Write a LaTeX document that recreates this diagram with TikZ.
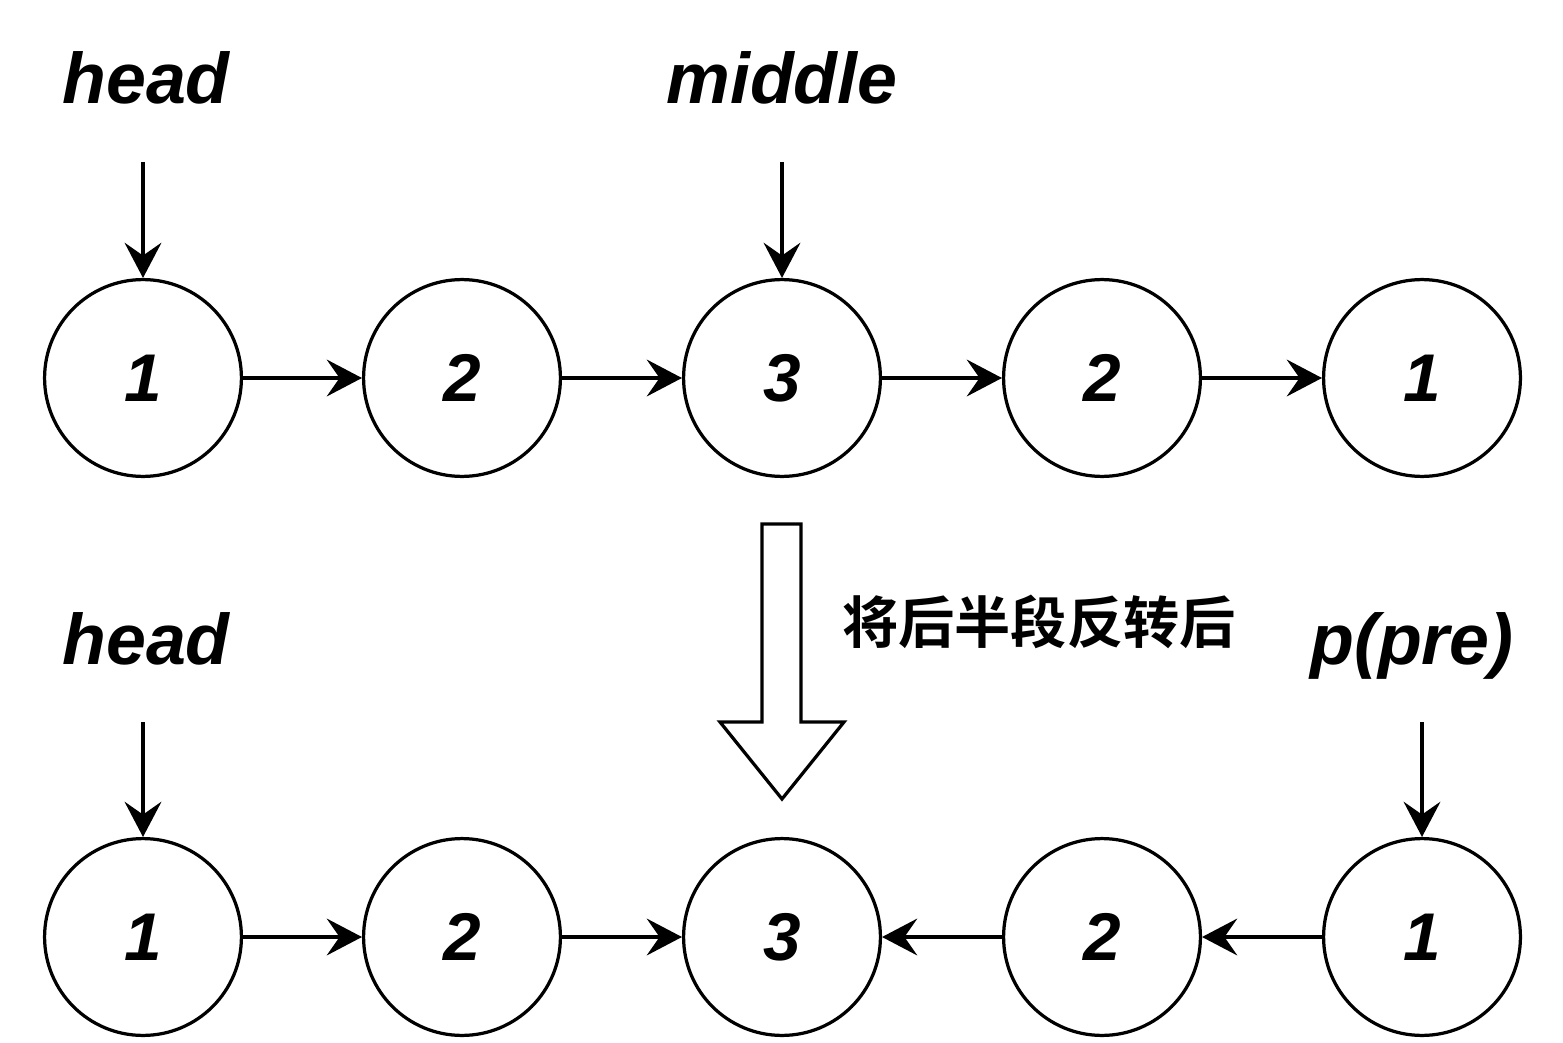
\documentclass[tikz,border=0pt]{standalone}
\usepackage{fontspec}
\setmainfont{Liberation Sans}
\newfontfamily\cjk{Noto Sans CJK SC}[BoldFont={Noto Sans CJK SC Bold}]
\usetikzlibrary{arrows.meta}

\tikzset{
  lnode/.style={circle,draw,line width=2.3pt,minimum size=4.92cm,inner sep=0pt,
    font=\fontsize{48}{48}\selectfont\bfseries\itshape},
  ptr/.style={anchor=base,font=\fontsize{51}{51}\selectfont\bfseries\itshape},
  link/.style={-{Stealth[length=0.88cm,width=0.92cm,inset=0.32cm]},line width=2.3pt},
}

\begin{document}
\begin{tikzpicture}[x=0.025cm,y=-0.025cm]
\useasboundingbox (0,0) rectangle (1563,1043);

% original list
\node[lnode] (a1) at (143,378) {1};
\node[lnode] (a2) at (462,378) {2};
\node[lnode] (a3) at (782,378) {3};
\node[lnode] (a4) at (1102,378) {2};
\node[lnode] (a5) at (1422,378) {1};
\draw[link] (a1) -- (a2);
\draw[link] (a2) -- (a3);
\draw[link] (a3) -- (a4);
\draw[link] (a4) -- (a5);

\node[ptr] (head1) at (146,104) {head};
\node[ptr] (mid) at (782,104) {middle};
\coordinate (head1e) at (143,162);
\coordinate (mide) at (782,162);
\draw[link] (head1e) -- (a1);
\draw[link] (mide) -- (a3);

% hollow arrow
\draw[line width=2.3pt,line join=miter] (762,524) -- (801,524) -- (801,722) -- (844,722)
  -- (782,799) -- (720,722) -- (762,722) -- cycle;
\node[font=\cjk\bfseries\fontsize{40}{40}\selectfont] (note) at (1039,622) {将后半段反转后};

% after reversing
\node[lnode] (b1) at (143,937) {1};
\node[lnode] (b2) at (462,937) {2};
\node[lnode] (b3) at (782,937) {3};
\node[lnode] (b4) at (1102,937) {2};
\node[lnode] (b5) at (1422,937) {1};
\draw[link] (b1) -- (b2);
\draw[link] (b2) -- (b3);
\draw[link] (b4) -- (b3);
\draw[link] (b5) -- (b4);

\node[ptr] (head2) at (146,664) {head};
\node[ptr] (pre) at (1412,664) {p(pre)};
\coordinate (head2e) at (143,722);
\coordinate (pree) at (1422,722);
\draw[link] (head2e) -- (b1);
\draw[link] (pree) -- (b5);
\end{tikzpicture}
\end{document}
